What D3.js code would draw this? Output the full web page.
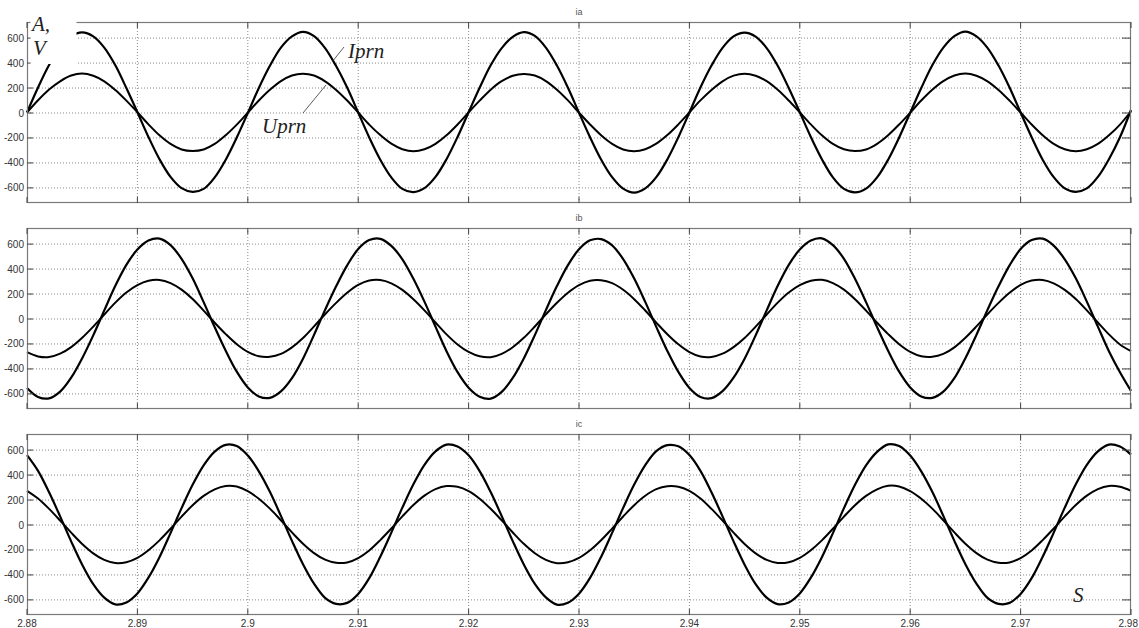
<!DOCTYPE html>
<html>
<head>
<meta charset="utf-8">
<script src="https://cdn.jsdelivr.net/npm/d3@7/dist/d3.min.js"></script>
<style>
  body { margin: 0; background: #fff; }
  svg { display: block; }
</style>
</head>
<body>
<svg id="chart" width="1139" height="628"></svg>
<script>
// time axis: samples every 1 ms from 2.88 s to 2.98 s
const tStart = 2.88;
const tStep = 0.001;
const xTicks = [2.88, 2.89, 2.9, 2.91, 2.92, 2.93, 2.94, 2.95, 2.96, 2.97, 2.98];
const yTicks = [-600, -400, -200, 0, 200, 400, 600];
const panelTitles = ["ia", "ib", "ic"];

// phase A: current-like wave (Iprn) and voltage-like wave (Uprn)
const iaI = [
  0, 200, 380, 520, 612, 642, 610, 520, 378, 196, 2, -196, -374, -516, -606, -636, -612, -520, -378, -200,
  -4, 196, 374, 520, 610, 646, 612, 516, 372, 200, 0, -200, -378, -520, -612, -638, -606, -516, -374, -196,
  2, 198, 378, 516, 606, 644, 614, 520, 376, 198, -2, -198, -376, -518, -610, -642, -608, -518, -376, -198,
  0, 200, 376, 518, 610, 640, 608, 516, 374, 196, 2, -196, -374, -520, -612, -640, -610, -520, -378, -200,
  -2, 196, 378, 520, 612, 648, 610, 518, 376, 200, 0, -198, -378, -518, -608, -636, -608, -516, -374, -198,
  20
];
const iaU = [
  0, 98, 184, 250, 296, 312, 294, 250, 180, 95, 2, -95, -183, -252, -296, -308, -296, -252, -182, -97,
  -1, 96, 182, 252, 297, 311, 296, 250, 181, 96, 0, -97, -181, -250, -294, -311, -295, -251, -183, -96,
  1, 95, 183, 251, 294, 309, 296, 252, 183, 97, -1, -96, -182, -251, -296, -310, -294, -250, -181, -95,
  0, 97, 181, 250, 295, 311, 295, 251, 182, 96, 1, -95, -183, -252, -295, -309, -296, -251, -182, -96,
  -1, 96, 182, 251, 296, 312, 294, 250, 181, 95, 0, -96, -182, -251, -295, -311, -295, -252, -183, -97,
  10
];

// phase B
const ibI = [
  -556, -628, -640, -586, -474, -318, -135, 65, 262, 430, 552, 624, 640, 588, 478, 322, 131, -69, -258, -426,
  -552, -624, -636, -584, -478, -322, -131, 69, 258, 426, 556, 628, 638, 582, 474, 318, 135, -65, -262, -430,
  -554, -626, -642, -588, -476, -320, -133, 67, 260, 428, 554, 626, 636, 586, 476, 320, 133, -67, -260, -428,
  -556, -628, -638, -582, -474, -322, -135, 65, 262, 430, 552, 624, 642, 588, 478, 318, 131, -69, -258, -426,
  -552, -624, -636, -586, -478, -318, -131, 69, 258, 426, 556, 628, 640, 584, 474, 322, 135, -65, -262, -430,
  -580
];
const ibU = [
  -270, -304, -309, -282, -229, -154, -65, 32, 127, 208, 267, 302, 309, 284, 231, 156, 63, -34, -125, -206,
  -267, -302, -307, -284, -231, -156, -63, 34, 125, 206, 269, 304, 308, 282, 229, 154, 65, -32, -127, -208,
  -268, -303, -310, -283, -230, -155, -64, 33, 126, 207, 268, 303, 307, 283, 230, 155, 64, -33, -126, -207,
  -269, -304, -308, -282, -229, -156, -65, 32, 127, 208, 267, 302, 310, 284, 231, 154, 63, -34, -125, -206,
  -267, -302, -307, -284, -231, -154, -63, 34, 125, 206, 269, 304, 309, 282, 229, 156, 65, -32, -127, -208,
  -262
];

// phase C
const icI = [
  556, 430, 258, 65, -135, -322, -478, -586, -640, -624, -552, -426, -262, -69, 131, 318, 474, 584, 638, 628,
  552, 426, 262, 69, -131, -318, -474, -588, -636, -628, -556, -430, -258, -65, 135, 322, 478, 586, 640, 624,
  554, 428, 260, 67, -133, -320, -476, -584, -642, -626, -554, -428, -260, -67, 133, 320, 476, 588, 636, 626,
  556, 430, 258, 65, -135, -322, -478, -586, -638, -624, -552, -426, -262, -69, 131, 318, 474, 582, 642, 628,
  552, 426, 262, 69, -131, -318, -474, -588, -636, -628, -556, -430, -258, -65, 135, 322, 478, 586, 640, 624,
  560
];
const icU = [
  270, 208, 125, 32, -65, -156, -231, -284, -309, -302, -267, -206, -127, -34, 63, 154, 229, 282, 309, 304,
  267, 206, 127, 34, -63, -154, -229, -282, -307, -304, -269, -208, -125, -32, 65, 156, 231, 284, 308, 302,
  268, 207, 126, 33, -64, -155, -230, -283, -310, -303, -268, -207, -126, -33, 64, 155, 230, 283, 307, 303,
  269, 208, 125, 32, -65, -156, -231, -284, -308, -302, -267, -206, -127, -34, 63, 154, 229, 282, 310, 304,
  267, 206, 127, 34, -63, -154, -229, -282, -307, -304, -269, -208, -125, -32, 65, 156, 231, 284, 309, 302,
  270
];

const seriesByPanel = [[iaI, iaU], [ibI, ibU], [icI, icU]];

const svg = d3.select("#chart");
const left = 27, right = 1131;
const panelTops = [22, 228, 434];
const panelH = 181;

const x = d3.scaleLinear().domain([2.88, 2.98]).range([left, right]);
const fmtX = (d) => String(+d.toFixed(2));

seriesByPanel.forEach((series, pi) => {
  const top = panelTops[pi];
  const bottom = top + panelH;
  const y = d3.scaleLinear().domain([-725, 725]).range([bottom, top]);
  const g = svg.append("g");

  // dotted grid
  g.selectAll("line.gx")
    .data(xTicks.slice(1, -1))
    .join("line")
    .attr("x1", (d) => x(d)).attr("x2", (d) => x(d))
    .attr("y1", top).attr("y2", bottom)
    .attr("stroke", "#8a8a8a").attr("stroke-dasharray", "1,2");
  g.selectAll("line.gy")
    .data(yTicks)
    .join("line")
    .attr("x1", left).attr("x2", right)
    .attr("y1", (d) => y(d) + 0.5).attr("y2", (d) => y(d) + 0.5)
    .attr("stroke", "#8a8a8a").attr("stroke-dasharray", "1,2");

  // curves
  const line = d3.line()
    .x((d, i) => x(tStart + i * tStep))
    .y((d) => y(d))
    .curve(d3.curveCatmullRom);
  series.forEach((vals, si) => {
    g.append("path")
      .datum(vals)
      .attr("fill", "none")
      .attr("stroke", "#000")
      .attr("stroke-width", si === 0 ? 2.2 : 2)
      .attr("stroke-linejoin", "round")
      .attr("d", line);
  });

  // frame
  g.append("rect")
    .attr("x", left + 0.5).attr("y", top + 0.5)
    .attr("width", right - left - 1).attr("height", panelH - 1)
    .attr("fill", "none").attr("stroke", "#7a7a7a").attr("stroke-width", 1.2);

  // inward ticks on all four sides
  const tk = g.append("g").attr("stroke", "#444").attr("stroke-width", 1);
  xTicks.forEach((d) => {
    tk.append("line").attr("x1", x(d)).attr("x2", x(d)).attr("y1", top).attr("y2", top + 6);
    tk.append("line").attr("x1", x(d)).attr("x2", x(d)).attr("y1", bottom).attr("y2", bottom - 6);
  });
  yTicks.forEach((d) => {
    tk.append("line").attr("x1", left).attr("x2", left + 6).attr("y1", y(d) + 0.5).attr("y2", y(d) + 0.5);
    tk.append("line").attr("x1", right).attr("x2", right - 9).attr("y1", y(d) + 0.5).attr("y2", y(d) + 0.5);
  });

  // y tick labels
  g.selectAll("text.yl")
    .data(yTicks)
    .join("text")
    .attr("x", left - 3)
    .attr("y", (d) => y(d) + 4)
    .attr("text-anchor", "end")
    .attr("font-family", "Liberation Sans, Arial, sans-serif")
    .attr("font-size", 10)
    .attr("fill", "#333")
    .text((d) => d);

  // panel title
  g.append("text")
    .attr("x", 579).attr("y", top - 7)
    .attr("text-anchor", "middle")
    .attr("font-family", "Liberation Sans, Arial, sans-serif")
    .attr("font-size", 9)
    .attr("fill", "#555")
    .text(panelTitles[pi]);

  if (pi === 2) {
    // last label sits flush with the right edge, as in the original
    g.selectAll("text.xl")
      .data(xTicks)
      .join("text")
      .attr("x", (d, i) => i === xTicks.length - 1 ? 1138 : x(d))
      .attr("y", bottom + 12)
      .attr("text-anchor", (d, i) => i === xTicks.length - 1 ? "end" : "middle")
      .attr("font-family", "Liberation Sans, Arial, sans-serif")
      .attr("font-size", 10)
      .attr("fill", "#333")
      .text(fmtX);
  }
});

// annotations
const serif = "Liberation Serif, Times New Roman, serif";
svg.append("rect").attr("x", 30.5).attr("y", 0).attr("width", 46).attr("height", 64).attr("fill", "#fff");
const ann = svg.append("g")
  .attr("font-family", serif).attr("font-style", "italic")
  .attr("font-size", 21).attr("fill", "#222");
ann.append("text").attr("x", 32).attr("y", 31).text("A,");
ann.append("text").attr("x", 33).attr("y", 55).text("V");
ann.append("text").attr("x", 348).attr("y", 58).text("Iprn");
ann.append("text").attr("x", 262).attr("y", 133).text("Uprn");
ann.append("text").attr("x", 1073).attr("y", 602).text("S");
svg.append("line").attr("x1", 344).attr("y1", 47).attr("x2", 332).attr("y2", 62)
  .attr("stroke", "#333").attr("stroke-width", 0.8);
svg.append("line").attr("x1", 303).attr("y1", 113).attr("x2", 326).attr("y2", 85)
  .attr("stroke", "#333").attr("stroke-width", 0.8);
</script>
</body>
</html>
